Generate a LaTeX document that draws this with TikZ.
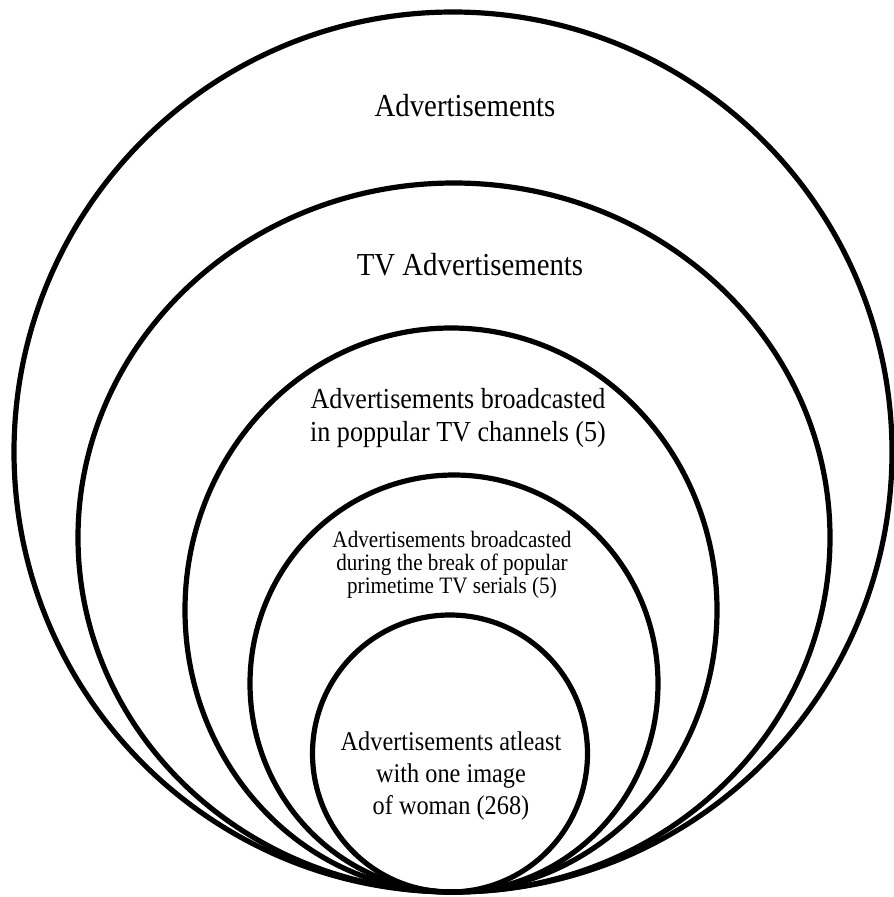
\documentclass[tikz,border=0pt]{standalone}
\usepackage{fontspec}
\setmainfont{Liberation Serif}[FakeStretch=0.9]
\usetikzlibrary{shapes.geometric}
\begin{document}
\begin{tikzpicture}[x=1pt,y=-1pt,
  ring/.style={draw=black, ellipse, line width=5.2pt, inner sep=0pt},
  big/.style={align=center, font=\fontsize{32}{34}\selectfont},
  mid/.style={align=center, font=\fontsize{29}{33}\selectfont},
  small/.style={align=center, font=\fontsize{23.5}{23}\selectfont},
  inner/.style={align=center, font=\fontsize{27}{32}\selectfont}]
  \useasboundingbox (0,0) rectangle (894,897);
  % nested sets, all touching at the bottom
  \node[ring, minimum width=878pt, minimum height=880pt] (ads)  at (453,452) {};
  \node[ring, minimum width=752pt, minimum height=709pt] (tv)   at (454,537.5) {};
  \node[ring, minimum width=532pt, minimum height=564pt] (chan) at (451,610) {};
  \node[ring, minimum width=408pt, minimum height=417pt] (prime) at (454,683.5) {};
  \node[ring, minimum width=275pt, minimum height=277pt] (woman) at (450,753.5) {};
  % labels
  \node[big] (tads) at (465,106) {Advertisements};
  \node[big] (ttv) at (470,265) {TV Advertisements};
  \node[mid] (tchan) at (458,418) {Advertisements broadcasted\\in poppular TV channels (5)};
  \node[small] (tprime) at (452,565) {Advertisements broadcasted\\during the break of popular\\primetime TV serials (5)};
  \node[inner] (twoman) at (451,776) {Advertisements atleast\\with one image\\of woman (268)};
\end{tikzpicture}
\end{document}
